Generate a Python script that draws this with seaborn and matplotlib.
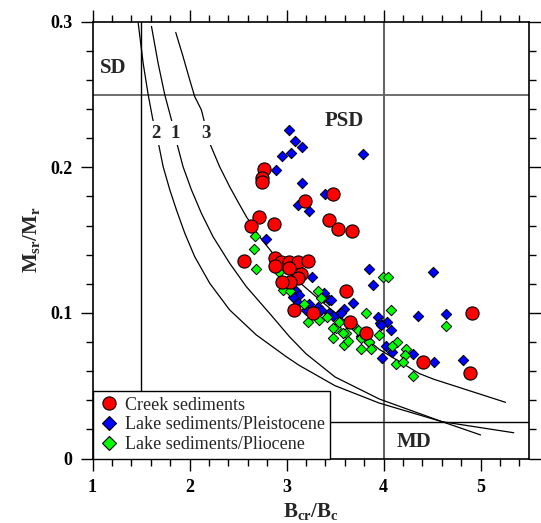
import matplotlib
matplotlib.use('Agg')
import matplotlib.pyplot as plt
from matplotlib.lines import Line2D
import seaborn as sns
import pandas as pd

# Creek sediments (Bcr/Bc, Msr/Mr)
creek_x = [2.766, 2.745, 2.752, 3.482, 3.191, 2.721, 2.629, 2.869, 3.438, 3.530,
           3.674, 2.557, 2.886, 2.944, 3.030, 3.115, 3.218, 2.879, 3.023, 3.153,
           3.115, 3.040, 2.955, 3.081, 3.269, 3.612, 3.653, 3.824, 4.914, 4.407,
           4.890]
creek_y = [0.199, 0.193, 0.190, 0.182, 0.177, 0.166, 0.160, 0.161, 0.164, 0.158,
           0.156, 0.136, 0.138, 0.135, 0.135, 0.135, 0.136, 0.132, 0.131, 0.127,
           0.124, 0.121, 0.121, 0.102, 0.100, 0.115, 0.094, 0.086, 0.100, 0.066,
           0.059]

# Lake sediments / Pleistocene
pleist_x = [3.023, 3.091, 3.160, 2.948, 3.050, 2.896, 3.790, 3.160, 3.393, 3.115,
            3.228, 2.790, 3.259, 3.098, 3.133, 3.064, 3.441, 3.390, 3.115, 3.235,
            3.321, 3.595, 3.287, 3.356, 3.441, 3.845, 4.513, 3.893, 3.681, 3.945,
            4.040, 4.075, 4.359, 4.647, 3.962, 3.544, 4.024, 3.972, 4.085, 4.304,
            4.520, 4.818, 3.983, 3.458, 3.390, 3.561, 3.201, 3.475, 3.767, 3.852]
pleist_y = [0.226, 0.218, 0.214, 0.208, 0.210, 0.198, 0.209, 0.189, 0.182, 0.174,
            0.170, 0.151, 0.125, 0.115, 0.112, 0.111, 0.109, 0.111, 0.107, 0.106,
            0.104, 0.103, 0.101, 0.102, 0.100, 0.130, 0.128, 0.119, 0.107, 0.097,
            0.094, 0.088, 0.098, 0.099, 0.093, 0.099, 0.077, 0.092, 0.073, 0.072,
            0.066, 0.068, 0.069, 0.109, 0.114, 0.100, 0.102, 0.098, 0.084, 0.080]

# Lake sediments / Pliocene
plio_x = [2.677, 2.663, 2.680, 2.920, 2.961, 3.037, 3.321, 3.356, 3.184, 3.989,
          4.050, 4.075, 3.818, 4.640, 3.955, 4.143, 3.218, 3.331, 3.475, 3.510,
          3.612, 3.732, 3.767, 3.595, 4.092, 4.229, 4.222, 4.133, 4.201, 4.304,
          3.475, 3.578, 3.629, 3.767, 3.852, 3.870, 3.681, 3.544, 3.420]
plio_y = [0.153, 0.144, 0.130, 0.128, 0.116, 0.115, 0.115, 0.110, 0.106, 0.125,
          0.125, 0.102, 0.100, 0.091, 0.085, 0.080, 0.094, 0.095, 0.083, 0.090,
          0.086, 0.088, 0.083, 0.078, 0.077, 0.075, 0.071, 0.065, 0.066, 0.057,
          0.0895, 0.086, 0.081, 0.075, 0.080, 0.075, 0.092, 0.094, 0.097]

# SD-MD mixing curves
curve1_x = [1.608, 1.676, 1.745, 1.814, 1.865, 1.933, 2.020, 2.122, 2.242, 2.413,
            2.585, 2.824, 3.030, 3.20, 3.50, 3.955, 4.603, 5.00]
curve1_y = [0.2968, 0.2716, 0.2498, 0.2326, 0.2177, 0.2005, 0.1845, 0.1685, 0.1524, 0.1342,
            0.1181, 0.0998, 0.0837, 0.0720, 0.0560, 0.0409, 0.0253, 0.0162]
curve2_x = [1.471, 1.522, 1.574, 1.619, 1.676, 1.728, 1.797, 1.865, 1.951, 2.053,
            2.208, 2.413, 2.688, 2.996, 3.13, 3.50, 3.955, 4.603, 5.342]
curve2_y = [0.2991, 0.2716, 0.2498, 0.2338, 0.2177, 0.2005, 0.1845, 0.1708, 0.1548, 0.1387,
            0.1204, 0.1021, 0.0849, 0.0700, 0.0640, 0.0500, 0.0381, 0.0253, 0.0177]
curve3_x = [1.858, 1.933, 2.002, 2.053, 2.122, 2.208, 2.310, 2.413, 2.498,
            2.585, 2.721, 2.858, 3.064, 3.304, 3.441, 3.955, 4.367, 4.520, 5.257]
curve3_y = [0.2927, 0.2762, 0.2601, 0.2487, 0.2395, 0.2166, 0.2005, 0.1868, 0.1765,
            0.1662, 0.1524, 0.1410, 0.1250, 0.1112, 0.1035, 0.0750, 0.0584, 0.0544, 0.0386]
curve_labels = ['1', '2', '3']
curve_label_x = [1.848, 1.653, 2.174]
curve_label_y = [0.2236, 0.2236, 0.2236]

sns.set_style('ticks')
plt.rcParams['font.family'] = ['Liberation Serif', 'DejaVu Serif']
plt.rcParams['font.weight'] = 'bold'
plt.rcParams['mathtext.fontset'] = 'custom'
plt.rcParams['mathtext.bf'] = 'Liberation Serif:bold'
plt.rcParams['mathtext.rm'] = 'Liberation Serif'

fig = plt.figure(figsize=(5.41, 5.23), dpi=100)
ax = fig.add_axes([0.171, 0.1233, 0.807, 0.835])

# region boundaries
ax.axhline(0.25, color='#555555', lw=1.2, zorder=1)
ax.axvline(4.0, color='#666666', lw=1.5, zorder=1)
ax.plot([1.5, 1.5], [0, 0.3], color='black', lw=1.0, zorder=1)
ax.axhline(0.025, color='black', lw=1.0, zorder=1)

for cx, cy in [(curve1_x, curve1_y), (curve2_x, curve2_y), (curve3_x, curve3_y)]:
    sns.lineplot(x=cx, y=cy, ax=ax, color='black', lw=0.9, sort=False,
                 estimator=None, zorder=2)
for lab, lx, ly in zip(curve_labels, curve_label_x, curve_label_y):
    ax.text(lx, ly, lab, ha='center', va='center', fontsize=13.5, fontweight='bold',
            zorder=3, bbox=dict(facecolor='white', edgecolor='none', pad=2.5))

pleist = pd.DataFrame({'x': pleist_x, 'y': pleist_y})
plio = pd.DataFrame({'x': plio_x, 'y': plio_y})
creek = pd.DataFrame({'x': creek_x, 'y': creek_y})
sns.scatterplot(data=pleist, x='x', y='y', ax=ax, marker='D', s=28, color='#0000FF',
                edgecolor='black', linewidth=0.7, zorder=4)
sns.scatterplot(data=plio, x='x', y='y', ax=ax, marker='D', s=28, color='#00FF00',
                edgecolor='black', linewidth=0.7, zorder=4)
sns.scatterplot(data=creek, x='x', y='y', ax=ax, marker='o', s=90, color='#FF0000',
                edgecolor='black', linewidth=0.8, zorder=5)

ax.text(1.08, 0.268, 'SD', ha='left', va='center', fontsize=15, fontweight='bold')
ax.text(3.596, 0.232, 'PSD', ha='center', va='center', fontsize=15, fontweight='bold')
ax.text(4.314, 0.0114, 'MD', ha='center', va='center', fontsize=15, fontweight='bold')

ax.set_xlim(1, 5.5)
ax.set_ylim(0, 0.3)
ax.set_xticks([1, 2, 3, 4, 5])
ax.set_xticklabels(['1', '2', '3', '4', '5'])
ax.set_yticks([0, 0.1, 0.2, 0.3])
ax.set_yticklabels(['0', '0.1', '0.2', '0.3'])
ax.set_xticks([1 + 0.2 * i for i in range(23)], minor=True)
ax.set_yticks([0.02 * i for i in range(16)], minor=True)
ax.tick_params(which='both', direction='out', top=True, right=True, width=1.0,
               colors='black', labelsize=13)
ax.tick_params(which='major', length=8.5, pad=6)
ax.tick_params(which='minor', length=5)
for sp in ax.spines.values():
    sp.set_linewidth(1.2)
    sp.set_color('black')

ax.set_xlabel(r'$\mathbf{B_{cr}/B_{c}}$', fontsize=15, labelpad=4)
ax.set_ylabel(r'$\mathbf{M_{sr}/M_{r}}$', fontsize=15, labelpad=6)

handles = [
    Line2D([], [], ls='none', marker='o', ms=9.5, mfc='#FF0000', mec='black', mew=0.8),
    Line2D([], [], ls='none', marker='D', ms=7, mfc='#0000FF', mec='black', mew=0.8),
    Line2D([], [], ls='none', marker='D', ms=7, mfc='#00FF00', mec='black', mew=0.8),
]
leg = ax.legend(handles, ['Creek sediments', 'Lake sediments/Pleistocene',
                          'Lake sediments/Pliocene'],
                loc='lower left', bbox_to_anchor=(0, 0), borderaxespad=0,
                fancybox=False, framealpha=1, edgecolor='black',
                prop={'family': 'Liberation Serif', 'weight': 'normal', 'size': 13},
                handletextpad=0.3, labelspacing=0.15, borderpad=0.3,
                handlelength=1.2)
leg.get_frame().set_linewidth(1.0)
leg.set_zorder(10)

fig.savefig('out.png', dpi=100)
